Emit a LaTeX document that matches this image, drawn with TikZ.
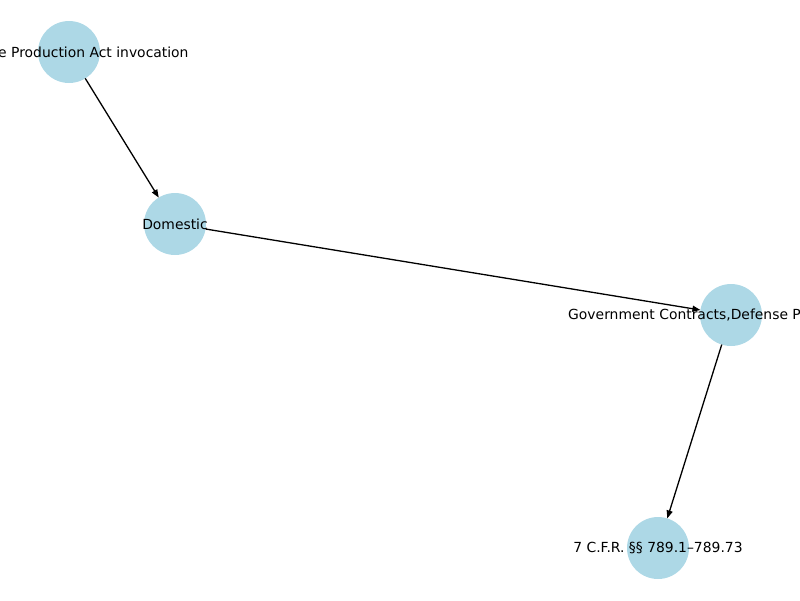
\documentclass[tikz,border=0pt]{standalone}
\usepackage{fontspec}
\setmainfont{DejaVu Sans}
\usetikzlibrary{arrows.meta}
\definecolor{nodeblue}{HTML}{ADD8E6}
\tikzset{
  vert/.style={circle, fill=nodeblue, minimum size=62pt, inner sep=0pt, outer sep=0pt},
  lbl/.style={inner sep=0pt, font=\fontsize{13.9}{16}\selectfont, text=black},
  edge/.style={draw=black, line width=1.3pt, -{Triangle[length=8pt,width=6pt]}}
}
\begin{document}
\begin{tikzpicture}[x=1pt,y=-1pt]
\useasboundingbox (0,0) rectangle (800,600);
\clip (0,0) rectangle (800,600);
\node[vert] (dpa) at (69,52) {};
\node[vert] (dom) at (175,224) {};
\node[vert] (gov) at (731,315) {};
\node[vert] (cfr) at (658,548) {};
\draw[edge] (dpa) -- (dom);
\draw[edge] (dom) -- (gov);
\draw[edge] (gov) -- (cfr);
\node[lbl] (tdpa) at (69,52) {Defense Production Act invocation};
\node[lbl] (tdom) at (175,224) {Domestic};
\node[lbl, anchor=west] (tgov) at (568,315) {Government Contracts,Defense Procurement};
\node[lbl] (tcfr) at (658,548) {7 C.F.R. §§ 789.1–789.73};
\end{tikzpicture}
\end{document}
